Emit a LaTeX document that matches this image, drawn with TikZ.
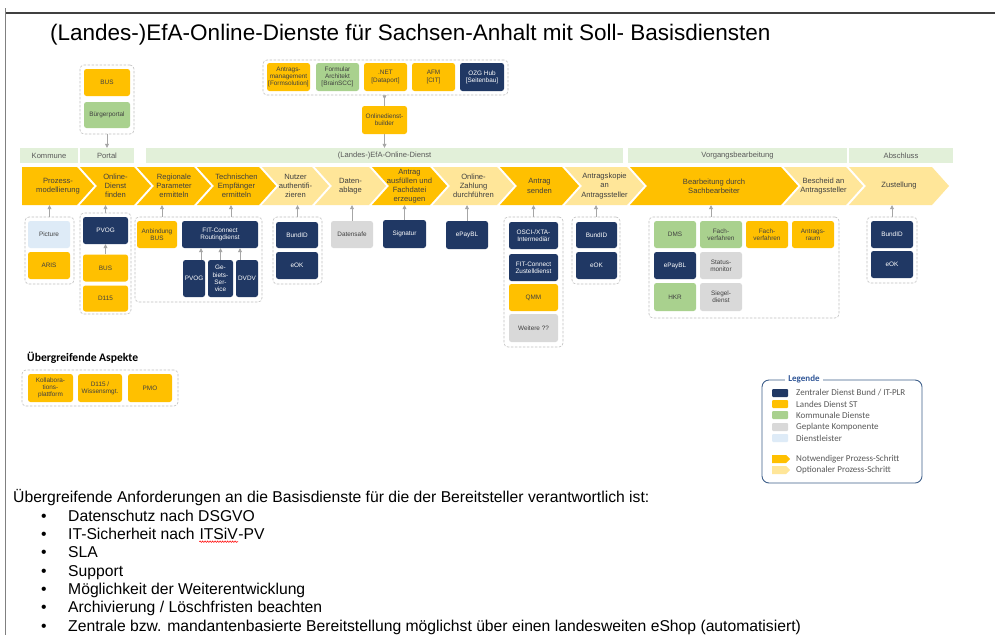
\documentclass[tikz,border=0pt]{standalone}
\usepackage{fontspec}
\setmainfont{Liberation Sans}
\newfontfamily\calibri{Carlito}
\usetikzlibrary{arrows.meta,calc,decorations.pathmorphing}
\definecolor{orng}{HTML}{FFC000}
\definecolor{chd}{HTML}{FFC000}
\definecolor{chl}{HTML}{FFE699}
\definecolor{navy}{HTML}{203864}
\definecolor{grn}{HTML}{A9D18E}
\definecolor{gry}{HTML}{D9D9D9}
\definecolor{lblue}{HTML}{DEEBF7}
\definecolor{bandc}{HTML}{E2F0D9}
\definecolor{bandt}{HTML}{595959}
\definecolor{dashc}{HTML}{BFBFBF}
\definecolor{arrc}{HTML}{A6A6A6}
\definecolor{txt}{HTML}{404040}
\definecolor{legb}{HTML}{3E5F8A}
\definecolor{legt}{HTML}{2F5597}
\definecolor{legtx}{HTML}{595959}
\definecolor{framec}{HTML}{404040}
\newcommand\chev[6]{%
  \fill[#4] (#2,167) -- (#3,167) -- (#3+17,186) -- (#3,205) -- (#2,205) -- (#2+#6,186) -- cycle;
  \node[chtext, minimum width=#3-#2] (#1) at ({(#2+#3+17)/2},186) {#5};}
\begin{document}
\begin{tikzpicture}[x=1pt,y=-1pt,
  box/.style={rounded corners=2.5pt, inner sep=0pt, align=center, font=\fontsize{6.4}{7.3}\selectfont, minimum width=42pt, minimum height=27pt},
  ob/.style={box, fill=orng, text=txt},
  nb/.style={box, fill=navy, text=white},
  gb/.style={box, fill=grn, text=txt},
  yb/.style={box, fill=gry, text=txt},
  lb/.style={box, fill=lblue, text=txt},
  grp/.style={draw=dashc, dash pattern=on 2.5pt off 1.5pt, rounded corners=4pt, line width=0.6pt, inner sep=0pt},
  arr/.style={draw=arrc, line width=0.7pt, -{Triangle[length=4pt,width=4pt]}},
  band/.style={fill=bandc, text=bandt, font=\fontsize{7.6}{8.5}\selectfont, minimum height=15pt, inner sep=0pt},
  chtext/.style={align=center, text=txt, font=\fontsize{7.6}{9.2}\selectfont, minimum height=38pt, inner sep=0pt},
  sw/.style={minimum width=16pt, minimum height=8pt, inner sep=0pt, rounded corners=1pt},
  legtxt/.style={anchor=west, font=\calibri\fontsize{9}{10}\selectfont, text=legtx, inner sep=0pt},
  bt/.style={anchor=base west, font=\fontsize{15.7}{18}\selectfont, text=black, inner sep=0pt}
]
\useasboundingbox (0,0) rectangle (995,635);
\fill[white] (0,0) rectangle (995,635);
% frame
\draw[line width=1.6pt, framec] (5,13) -- (995,13);
\draw[line width=0.8pt, gray] (5,8) -- (5,635);
% title
\node[anchor=base west, font=\fontsize{22.5}{26}\selectfont, inner sep=0pt] (title) at (50,40) {(Landes-)EfA-Online-Dienste für Sachsen-Anhalt mit Soll- Basisdiensten};

% top group
\node[grp, minimum width=245, minimum height=35] (tg) at (385.5,77.5) {};
\node[ob, minimum width=43, minimum height=28] (antm) at (288.5,77) {Antrags-\\management\\{[}Formsolution]};
\node[gb, minimum width=43, minimum height=28] (form) at (337.5,77) {Formular\\Architekt\\{[}BrainSCC]};
\node[ob, minimum width=43, minimum height=28] (net) at (385.5,77) {.NET\\{[}Dataport]};
\node[ob, minimum width=43, minimum height=28] (afm) at (433.5,77) {AFM\\{[}CIT]};
\node[nb, minimum width=44, minimum height=28] (ozg) at (482,77) {OZG Hub\\{[}Seitenbau]};
\node[ob, minimum width=45, minimum height=28] (bld) at (384.5,120) {Onlinedienst-\\builder};
\draw[draw=arrc, line width=0.7pt, {Triangle[reversed,length=4pt,width=4pt]}-] (bld.north |- tg.south) -- (bld.north);

% portal group
\node[grp, minimum width=54, minimum height=69] (pg) at (107,99.5) {};
\node[ob, minimum width=46, minimum height=27] (bus1) at (107,82.5) {BUS};
\node[gb, minimum width=46, minimum height=26] (bprt) at (107,115) {Bürgerportal};

% bands
\node[band, minimum width=58] (bK) at (49,155.5) {Kommune};
\node[band, minimum width=54] (bP) at (107,155.5) {Portal};
\node[band, minimum width=477] (bE) at (384.5,155.5) {(Landes-)EfA-Online-Dienst};
\node[band, minimum width=219] (bV) at (737.5,155.5) {Vorgangsbearbeitung};
\node[band, minimum width=104] (bA) at (901,155.5) {Abschluss};
\draw[arr] (pg.south) -- (bP.north);
\draw[arr] (bld.south) -- (bld.south |- bE.north);

% chevrons
\chev{c1}{22}{77}{chd}{Prozess-\\modellierung}{0}
\chev{c2}{80}{134}{chd}{Online-\\Dienst\\finden}{17}
\chev{c3}{137}{194}{chd}{Regionale\\Parameter\\ermitteln}{17}
\chev{c4}{197}{259}{chd}{Technischen\\Empfänger\\ermitteln}{17}
\chev{c5}{262}{312}{chl}{Nutzer\\authentifi-\\zieren}{17}
\chev{c6}{315}{369}{chl}{Daten-\\ablage}{17}
\chev{c7}{372}{430}{chd}{Antrag\\ausfüllen und\\Fachdatei\\erzeugen}{17}
\chev{c8}{433}{497}{chl}{Online-\\Zahlung\\durchführen}{17}
\chev{c9}{500}{562}{chd}{Antrag\\senden}{17}
\chev{c10}{565}{627}{chl}{Antragskopie\\an\\Antragssteller}{17}
\chev{c11}{630}{781}{chd}{Bearbeitung durch\\Sachbearbeiter}{17}
\chev{c12}{784}{846}{chl}{Bescheid an\\Antragssteller}{17}
\chev{c13}{849}{932}{chl}{Zustellung}{17}

% group 1
\node[grp, minimum width=49, minimum height=67] (g1) at (49.5,250.5) {};
\node[lb] (pic) at (49,234.5) {Picture};
\node[ob] (aris) at (49,265.5) {ARIS};
\draw[arr] (g1.north) -- (g1.north |- c1.south);

% group 2
\node[grp, minimum width=51, minimum height=101] (g2) at (105.5,263.5) {};
\node[nb, minimum width=45] (pvog1) at (105.5,230.5) {PVOG};
\node[ob, minimum width=45] (bus2) at (105.5,268) {BUS};
\node[ob, minimum width=45, minimum height=26] (d115) at (105.5,298.5) {D115};
\draw[arr] (bus2.north) -- (pvog1.south);
\draw[arr] (g2.north) -- (g2.north |- c2.south);

% group 3
\node[grp, minimum width=127, minimum height=85] (g3) at (198.5,259.5) {};
\node[ob, minimum width=40] (anb) at (157,234.5) {Anbindung\\BUS};
\node[nb, minimum width=76] (frc) at (220,234.5) {FIT-Connect\\Routingdienst};
\node[nb, minimum width=22, minimum height=37] (pvog2) at (194,278.5) {PVOG};
\node[nb, minimum width=25, minimum height=37] (gbs) at (220.5,278.5) {Ge-\\biets-\\Ser-\\vice};
\node[nb, minimum width=22, minimum height=37] (dvdv) at (247,278.5) {DVDV};
\coordinate (p1) at ($(pvog2.north)+(7,0)$);
\coordinate (p3) at ($(dvdv.north)+(-7,0)$);
\draw[arr] (p1) -- (p1 |- frc.south);
\draw[arr] (gbs.north) -- (gbs.north |- frc.south);
\draw[arr] (p3) -- (p3 |- frc.south);
\coordinate (a3) at ($(g3.north -| anb.north)+(5,0)$);
\coordinate (a4) at ($(g3.north -| frc.north)+(11,0)$);
\draw[arr] (a3) -- (a3 |- c3.south);
\draw[arr] (a4) -- (a4 |- c4.south);

% group 5
\node[grp, minimum width=49, minimum height=67] (g5) at (297.5,250.5) {};
\node[nb, minimum height=26] (bund1) at (297,235) {BundID};
\node[nb] (eok1) at (297,265.5) {eOK};
\draw[arr] (g5.north) -- (g5.north |- c5.south);

% single boxes
\node[yb] (dsafe) at (352,234.5) {Datensafe};
\draw[arr] (dsafe.north) -- (dsafe.north |- c6.south);
\node[nb, minimum width=43, minimum height=28] (sig) at (404.5,234) {Signatur};
\draw[arr] (sig.north) -- (sig.north |- c7.south);
\node[nb, minimum height=28] (epay1) at (467,235) {ePayBL};
\draw[arr] (epay1.north) -- (epay1.north |- c8.south);

% group 9
\node[grp, minimum width=59, minimum height=130] (g9) at (533.5,282) {};
\node[nb, minimum width=49] (osci) at (533.5,235.5) {OSCI-/XTA-\\Intermediär};
\node[nb, minimum width=49] (fitz) at (533.5,267.5) {FIT-Connect\\Zustelldienst};
\node[ob, minimum width=49] (qmm) at (533.5,297.5) {QMM};
\node[yb, minimum width=49, minimum height=28] (weit) at (533.5,328) {Weitere ??};
\draw[arr] (g9.north) -- (g9.north |- c9.south);

% group 10
\node[grp, minimum width=48, minimum height=67] (g10) at (596,250.5) {};
\node[nb, minimum width=41, minimum height=26] (bund2) at (596.5,235) {BundID};
\node[nb, minimum width=41] (eok2) at (596.5,265.5) {eOK};
\draw[arr] (g10.north) -- (g10.north |- c10.south);

% group 11
\node[grp, minimum width=190, minimum height=101] (g11) at (744,267.5) {};
\node[gb] (dms) at (675,234.5) {DMS};
\node[gb] (fv1) at (721,234.5) {Fach-\\verfahren};
\node[ob] (fv2) at (767,234.5) {Fach-\\verfahren};
\node[ob] (araum) at (813,234.5) {Antrags-\\raum};
\node[nb] (epay2) at (675,265.5) {ePayBL};
\node[yb] (stm) at (721,265.5) {Status-\\monitor};
\node[gb, minimum height=28] (hkr) at (675,297) {HKR};
\node[yb, minimum height=28] (sieg) at (721,297) {Siegel-\\dienst};
\coordinate (a11) at ($(g11.north)+(-33,0)$);
\draw[arr] (a11) -- (a11 |- c11.south);

% group 13
\node[grp, minimum width=50, minimum height=66] (g13) at (892,250) {};
\node[nb] (bund3) at (892,234.5) {BundID};
\node[nb] (eok3) at (892,264.5) {eOK};
\draw[arr] (g13.north) -- (g13.north |- c13.south);

% uebergreifende Aspekte
\node[anchor=west, font=\calibri\bfseries\fontsize{11.6}{13}\selectfont, inner sep=0pt] (ua) at (27,358) {Übergreifende Aspekte};
\node[grp, minimum width=156, minimum height=36] (ug) at (100,388) {};
\node[ob, minimum width=45, minimum height=28] (kol) at (50.5,388) {Kollabora-\\tions-\\plattform};
\node[ob, minimum width=44, minimum height=28] (d115b) at (100,388) {D115 /\\Wissensmgt.};
\node[ob, minimum width=44, minimum height=28] (pmo) at (150,388) {PMO};

% legend
\node[draw=legb, line width=0.9pt, rounded corners=7pt, minimum width=160, minimum height=103, inner sep=0pt] (leg) at (842,431.5) {};
\node[fill=white, text=legt, font=\calibri\bfseries\fontsize{9}{10}\selectfont, inner xsep=3pt, inner ysep=1pt] (legtitle) at (804,379) {Legende};
\node[sw, fill=navy] (s1) at (780,393) {};
\node[sw, fill=orng] (s2) at (780,404) {};
\node[sw, fill=grn] (s3) at (780,415) {};
\node[sw, fill=gry] (s4) at (780,427) {};
\node[sw, fill=lblue] (s5) at (780,438) {};
\fill[chd] (772,455) -- (786,455) -- (790,459) -- (786,463) -- (772,463) -- cycle;
\fill[chl] (772,466) -- (786,466) -- (790,470) -- (786,474) -- (772,474) -- cycle;
\node[legtxt] (t1) at (796,393) {Zentraler Dienst Bund / IT-PLR};
\node[legtxt] (t2) at (796,404) {Landes Dienst ST};
\node[legtxt] (t3) at (796,415) {Kommunale Dienste};
\node[legtxt] (t4) at (796,427) {Geplante Komponente};
\node[legtxt] (t5) at (796,438) {Dienstleister};
\node[legtxt] (t6) at (796,459) {Notwendiger Prozess-Schritt};
\node[legtxt] (t7) at (796,470) {Optionaler Prozess-Schritt};

% bottom text
\node[bt] (hd) at (13,502) {Übergreifende Anforderungen an die Basisdienste für die der Bereitsteller verantwortlich ist:};
\foreach \yy/\nm in {521/u1,539.3/u2,557.7/u3,576/u4,594.3/u5,612.7/u6,631/u7}{
  \node[bt] (\nm) at (41,\yy) {•};
}
\node[bt] (i1) at (68,521) {Datenschutz nach DSGVO};
\node[bt] (i2a) at (68,539.3) {IT-Sicherheit nach};
\node[bt] (i2b) at ($(i2a.base east)+(4.4,0)$) {ITSiV};
\node[bt] (i2c) at (i2b.base east) {-PV};
\draw[red, line width=0.6pt, decorate, decoration={snake, amplitude=0.7pt, segment length=2.5pt}] ($(i2b.base west)+(0,2.4)$) -- ($(i2b.base east)+(0,2.4)$);
\node[bt] (i3) at (68,557.7) {SLA};
\node[bt] (i4) at (68,576) {Support};
\node[bt] (i5) at (68,594.3) {Möglichkeit der Weiterentwicklung};
\node[bt] (i6) at (68,612.7) {Archivierung / Löschfristen beachten};
\node[bt] (i7) at (68,631) {Zentrale bzw. mandantenbasierte Bereitstellung möglichst über einen landesweiten eShop (automatisiert)};
\end{tikzpicture}
\end{document}
